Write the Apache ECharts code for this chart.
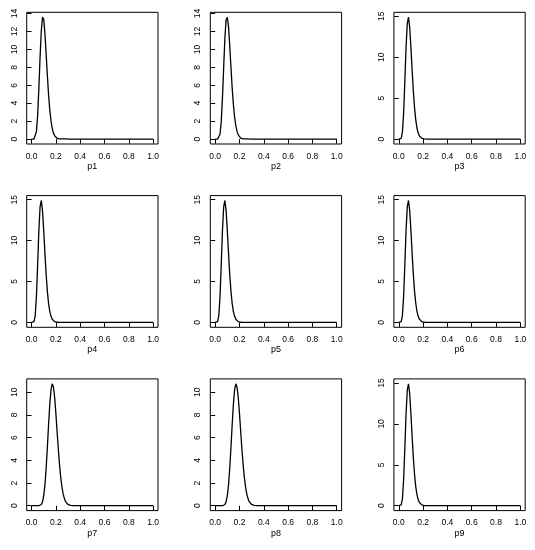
<!DOCTYPE html>
<html>
<head>
<meta charset="utf-8">
<script src="https://cdn.jsdelivr.net/npm/echarts@6/dist/echarts.min.js"></script>
<style>html,body{margin:0;padding:0;background:#fff}#c{width:535px;height:550px}</style>
</head>
<body>
<div id="c"></div>
<script>
// x positions where the density curves are read
const xGrid = [0,0.01,0.02,0.03,0.04,0.05,0.06,0.07,0.08,0.09,0.10,0.11,0.12,0.13,0.14,0.15,0.16,0.17,0.18,0.19,0.20,0.21,0.22,0.23,0.24,0.25,0.26,0.27,0.28,0.29,0.30,0.31,0.32,0.33,0.34,0.35,0.4,0.5,0.6,0.7,0.8,0.9,1.0];

const dens1 = [0,0,0.01,0.14,0.84,2.65,5.66,9.16,12.06,13.6,13.35,11.76,9.51,7.10,4.96,3.25,2.03,1.20,0.67,0.37,0.19,0.09,0.05,0.03,0.03,0.03,0.03,0.03,0.03,0.02,0.01,0.01,0,0,0,0,0,0,0,0,0,0,0];
const dens2 = [0,0,0.01,0.08,0.55,1.95,4.6,8.0,11.3,13.3,13.6,12.5,10.4,8.0,5.7,3.85,2.45,1.5,0.86,0.47,0.25,0.12,0.06,0.03,0.02,0.02,0.02,0.02,0.02,0.01,0.01,0,0,0,0,0,0,0,0,0,0,0,0];
const dens3 = [0,0,0.09,0.84,3.18,7.07,11.23,14.12,14.9,13.66,11.23,8.43,5.84,3.79,2.31,1.33,0.74,0.39,0.20,0.10,0.05,0.02,0.01,0,0,0,0,0,0,0,0,0,0,0,0,0,0,0,0,0,0,0,0];
const dens4 = [0,0,0.09,0.84,3.18,7.07,11.23,14.12,14.9,13.66,11.23,8.43,5.84,3.79,2.31,1.33,0.74,0.39,0.20,0.10,0.05,0.02,0.01,0,0,0,0,0,0,0,0,0,0,0,0,0,0,0,0,0,0,0,0];
const dens5 = [0,0,0.09,0.84,3.18,7.07,11.23,14.12,14.9,13.66,11.23,8.43,5.84,3.79,2.31,1.33,0.74,0.39,0.20,0.10,0.05,0.02,0.01,0,0,0,0,0,0,0,0,0,0,0,0,0,0,0,0,0,0,0,0];
const dens6 = [0,0,0.09,0.84,3.18,7.07,11.23,14.12,14.9,13.66,11.23,8.43,5.84,3.79,2.31,1.33,0.74,0.39,0.20,0.10,0.05,0.02,0.01,0,0,0,0,0,0,0,0,0,0,0,0,0,0,0,0,0,0,0,0];
const dens7 = [0,0,0,0,0,0,0,0.03,0.11,0.34,0.88,1.84,3.30,5.16,7.16,8.96,10.23,10.75,10.46,9.54,8.14,6.55,5.00,3.62,2.50,1.65,1.04,0.63,0.36,0.20,0.11,0.05,0.03,0.01,0.01,0,0,0,0,0,0,0,0];
const dens8 = [0,0,0,0,0,0,0,0.03,0.11,0.34,0.88,1.84,3.30,5.16,7.16,8.96,10.23,10.75,10.46,9.54,8.14,6.55,5.00,3.62,2.50,1.65,1.04,0.63,0.36,0.20,0.11,0.05,0.03,0.01,0.01,0,0,0,0,0,0,0,0];
const dens9 = [0,0,0.09,0.84,3.18,7.07,11.23,14.12,14.9,13.66,11.23,8.43,5.84,3.79,2.31,1.33,0.74,0.39,0.20,0.10,0.05,0.02,0.01,0,0,0,0,0,0,0,0,0,0,0,0,0,0,0,0,0,0,0,0];

const panelNames = ['p1','p2','p3','p4','p5','p6','p7','p8','p9'];
const xTicks = [0,0.2,0.4,0.6,0.8,1.0];
const yTicksA = [0,2,4,6,8,10,12,14];
const yTicksB = [0,5,10,15];
const yTicksC = [0,2,4,6,8,10];

const densList = [dens1,dens2,dens3,dens4,dens5,dens6,dens7,dens8,dens9];
const yTickList = [yTicksA,yTicksA,yTicksB,yTicksB,yTicksB,yTicksB,yTicksC,yTicksC,yTicksB];

const FONT = '"Liberation Sans", Arial, sans-serif';
const FS = 8.5;
const grids = [], xAxes = [], yAxes = [], series = [];
for (let i = 0; i < 9; i++) {
  const r = Math.floor(i / 3), c = i % 3;
  grids.push({
    left: 26.7 + c * 183.6, top: 12.3 + r * 183.3, width: 131.3, height: 131.7,
    show: true, borderColor: '#000', borderWidth: 1, backgroundColor: 'transparent'
  });
  const M = Math.max(...densList[i]);
  xAxes.push({
    type: 'value', gridIndex: i, min: -0.04, max: 1.04,
    name: panelNames[i], nameLocation: 'middle', nameGap: 18,
    nameTextStyle: {fontFamily: FONT, fontSize: FS + 0.5, color: '#000'},
    axisLine: {show: false}, splitLine: {show: false},
    axisTick: {show: true, inside: false, length: 4.5, lineStyle: {color: '#000', width: 1}, customValues: xTicks},
    axisLabel: {show: true, customValues: xTicks, margin: 8, fontFamily: FONT, fontSize: FS, color: '#000',
      formatter: v => v.toFixed(1)}
  });
  yAxes.push({
    type: 'value', gridIndex: i, min: -0.04 * M, max: 1.04 * M,
    axisLine: {show: false}, splitLine: {show: false},
    axisTick: {show: true, inside: false, length: 4.5, lineStyle: {color: '#000', width: 1}, customValues: yTickList[i]},
    axisLabel: {show: true, customValues: yTickList[i], rotate: 90, margin: 8, fontFamily: FONT, fontSize: FS, color: '#000',
      formatter: v => String(v)}
  });
  series.push({
    type: 'line', xAxisIndex: i, yAxisIndex: i, showSymbol: false, symbol: 'none',
    data: xGrid.map((x, k) => [x, densList[i][k]]),
    lineStyle: {color: '#000', width: 1.3}, itemStyle: {color: '#000'}, animation: false
  });
}
const chart = echarts.init(document.getElementById('c'), null, {renderer: 'canvas'});
chart.setOption({backgroundColor: '#fff', animation: false, grid: grids, xAxis: xAxes, yAxis: yAxes, series: series});
</script>
</body>
</html>
